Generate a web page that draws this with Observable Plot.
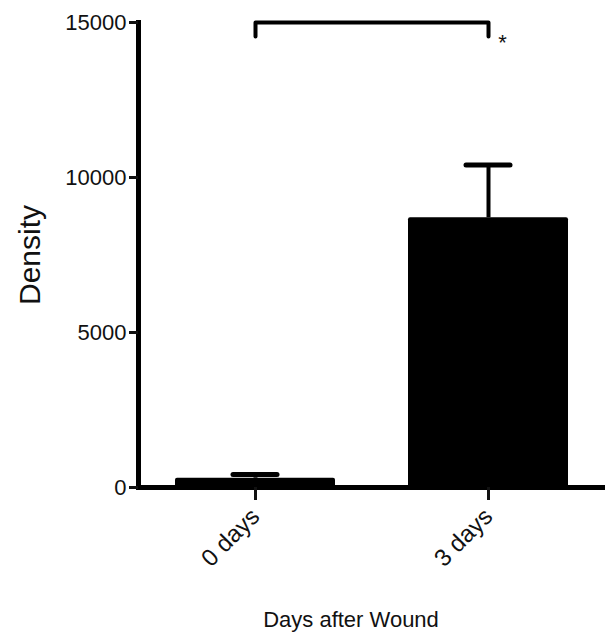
<!DOCTYPE html>
<html>
<head>
<meta charset="utf-8">
<script src="https://cdn.jsdelivr.net/npm/d3@7"></script>
<script src="https://cdn.jsdelivr.net/npm/@observablehq/plot@0.6"></script>
<style>
  html, body { margin: 0; padding: 0; background: #fff; }
</style>
</head>
<body>
<div id="chart"></div>
<script>
const categories = ["0 days", "3 days"];
const means = [300, 8700];
const uppers = [420, 10400];
const yTicks = [0, 5000, 10000, 15000];
const bracketY = [14550, 15000, 15000, 14550];
const bracketX = ["0 days", "0 days", "3 days", "3 days"];
const starLabel = "*";
const yLabel = "Density";
const xLabel = "Days after Wound";

const data = categories.map((c, i) => ({cat: c, mean: means[i], upper: uppers[i]}));
const bracket = bracketX.map((c, i) => ({cat: c, y: bracketY[i]}));

const chart = Plot.plot({
  width: 607,
  height: 637,
  marginLeft: 138,
  marginRight: 2,
  marginTop: 22,
  marginBottom: 150,
  style: {fontFamily: "'Liberation Sans', Arial, sans-serif", color: "#111", background: "#fff"},
  x: {domain: categories, paddingInner: 0.313, paddingOuter: 0.158, label: null},
  y: {domain: [0, 15000], label: null},
  marks: [
    Plot.barY(data, {x: "cat", y: "mean", fill: "black", rx: 2}),
    Plot.ruleX(data, {x: "cat", y1: "mean", y2: "upper", stroke: "black", strokeWidth: 4}),
    Plot.tickY(data, {x: "cat", y: "upper", stroke: "black", strokeWidth: 5, strokeLinecap: "round", insetLeft: 58, insetRight: 58}),
    Plot.ruleY([0], {stroke: "black", strokeWidth: 5}),
    Plot.frame({anchor: "left", stroke: "black", strokeWidth: 5}),
    Plot.axisY({ticks: yTicks, tickFormat: d3.format("d"), tickSize: 9, tickPadding: 3, fontSize: 22, strokeWidth: 3, label: null}),
    Plot.axisX({tickSize: 13, tickPadding: 12, tickRotate: -45, fontSize: 24, strokeWidth: 3, label: null}),
    Plot.line(bracket, {x: "cat", y: "y", stroke: "black", strokeWidth: 4, strokeLinejoin: "round", strokeLinecap: "round"}),
    Plot.text([starLabel], {x: () => categories[1], y: () => bracketY[3], text: d => d, dx: 14, dy: 7, fontSize: 22}),
    Plot.text([yLabel], {frameAnchor: "left", textAnchor: "middle", rotate: -90, dx: -108, fontSize: 30, text: d => d}),
    Plot.text([xLabel], {frameAnchor: "bottom", dy: 139, dx: -21, fontSize: 22, text: d => d})
  ]
});
document.getElementById("chart").appendChild(chart);
</script>
</body>
</html>
